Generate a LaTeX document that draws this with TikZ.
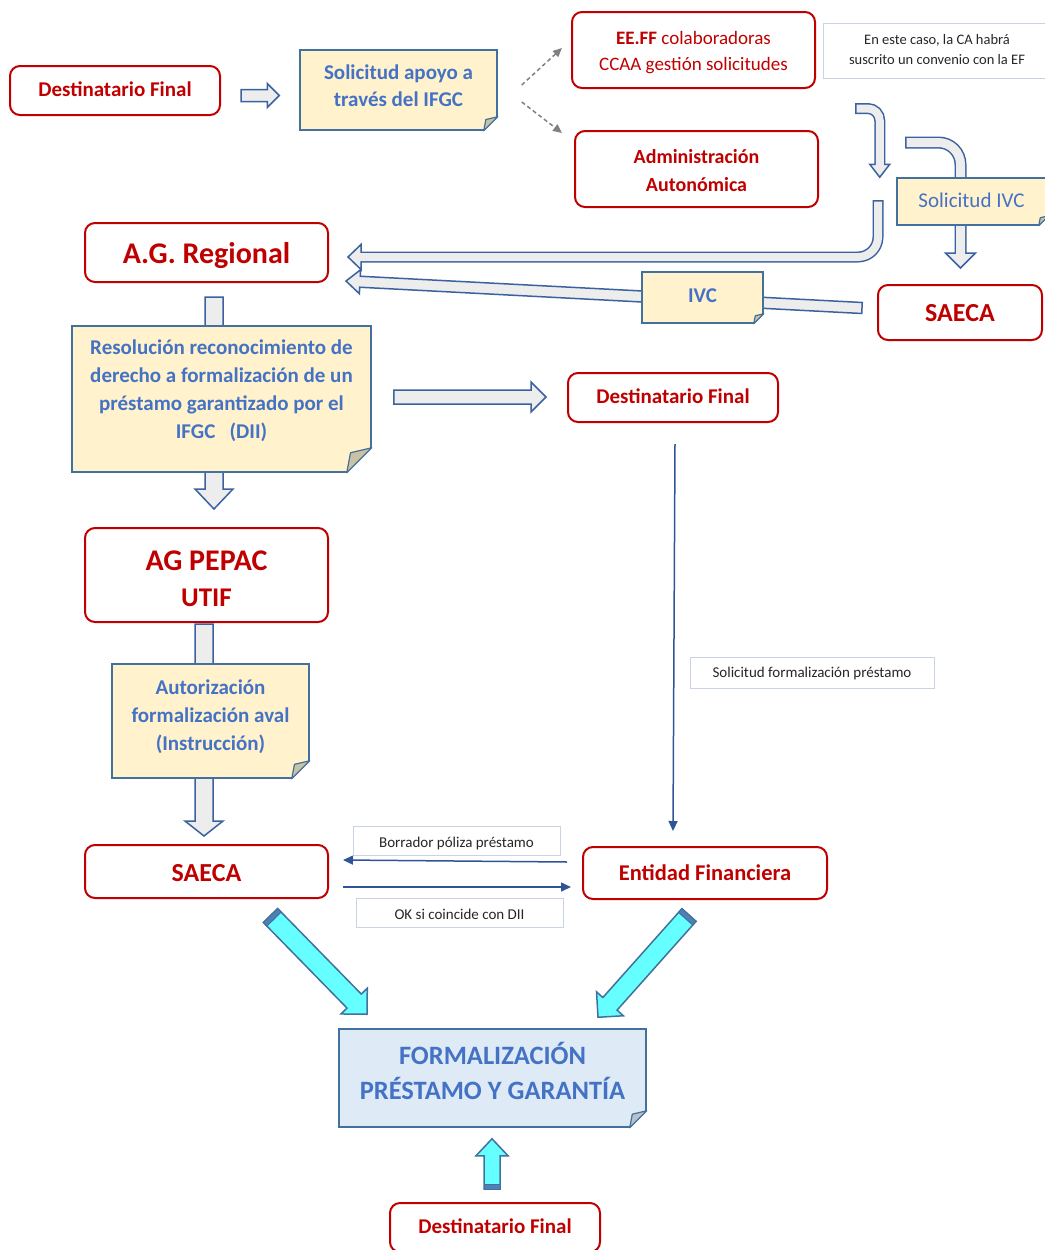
\documentclass[tikz,border=0pt]{standalone}
\usepackage{fontspec}
\setmainfont{Carlito}
\usetikzlibrary{arrows.meta,calc,positioning}

\definecolor{redline}{HTML}{C00000}
\definecolor{textblue}{HTML}{4472C4}
\definecolor{noteborder}{HTML}{41719C}
\definecolor{notefill}{HTML}{FFF2CC}
\definecolor{formfill}{HTML}{DEEAF6}
\definecolor{flaptan}{HTML}{CBC1A5}
\definecolor{flapgray}{HTML}{B8C0CC}
\definecolor{arrborder}{HTML}{3A62A0}
\definecolor{arrfill}{HTML}{EDEDED}
\definecolor{cyanfill}{HTML}{66FFFF}
\definecolor{capblue}{HTML}{4F7FB5}
\definecolor{thinblue}{HTML}{2F5597}
\definecolor{dashgray}{HTML}{808080}
\definecolor{lblborder}{HTML}{C9D3E3}
\definecolor{lbltext}{HTML}{262626}

\tikzset{
  redbox/.style={draw=redline, line width=2pt, rounded corners=10pt, fill=white,
    text=redline, align=center, inner sep=0pt, text depth=0pt,
    font=\bfseries\fontsize{21}{26}\selectfont},
  note/.style={draw=noteborder, fill=notefill, line width=1.5pt, inner sep=0pt},
  notetxt/.style={text=textblue, align=center, inner sep=0pt, font=\bfseries\fontsize{21}{28}\selectfont},
  lbl/.style={draw=lblborder, line width=1pt, text=lbltext, align=center, inner sep=0pt,
    text depth=0pt, font=\fontsize{15}{20}\selectfont},
  arrbox/.style={draw=arrborder, fill=arrfill, line width=1.5pt},
  cyanarr/.style={draw=noteborder, fill=cyanfill, line width=1.5pt},
  tubeout/.style={draw=arrborder, line width=#1},
  tubein/.style={draw=arrfill, line width=#1},
  thinarr/.style={draw=thinblue, line width=1.5pt, -{Triangle[length=10pt,width=9pt]}},
  dasharr/.style={draw=dashgray, line width=1.5pt, dash pattern=on 4pt off 3pt,
    -{Triangle[length=9pt,width=8pt]}}
}

% block arrow: style, start, tip, half shaft, half head, head length
\newcommand{\blockarr}[6]{%
  \coordinate (ba-s) at (#2);
  \coordinate (ba-e) at (#3);
  \coordinate (ba-h) at ($(ba-e)!#6pt!(ba-s)$);
  \filldraw[#1] ($(ba-s)!#4pt!90:(ba-e)$) -- ($(ba-h)!#4pt!-90:(ba-s)$)
    -- ($(ba-h)!#5pt!-90:(ba-s)$) -- (ba-e) -- ($(ba-h)!#5pt!90:(ba-s)$)
    -- ($(ba-h)!#4pt!90:(ba-s)$) -- ($(ba-s)!#4pt!-90:(ba-e)$) -- cycle;
}
% dark band at the tail of the last block arrow
\newcommand{\blockcap}[2]{%
  \coordinate (bc-m) at ($(ba-s)!#2pt!(ba-e)$);
  \filldraw[fill=capblue, draw=noteborder, line width=1pt] ($(ba-s)!#1pt!90:(ba-e)$)
    -- ($(bc-m)!#1pt!90:(ba-e)$) -- ($(bc-m)!#1pt!-90:(ba-e)$) -- ($(ba-s)!#1pt!-90:(ba-e)$) -- cycle;
}
% head of a bent arrow
\newcommand{\tubehead}[3]{%
  \filldraw[arrbox] ($(#1)!#3pt!90:(#2)$) -- (#2) -- ($(#1)!#3pt!-90:(#2)$) -- cycle;
}
% folded corner of a note
\newcommand{\fold}[3]{%
  \fill[white] ($(#1.south east)+(0,-#2)$) -- ++(3,0) -- ++(0,#2+3) -- ++(-#2-3,0) -- ++(0,-3) -- cycle;
  \filldraw[fill=#3, draw=noteborder, line width=1.2pt, line join=round] ($(#1.south east)+(-#2,0)$)
    -- ($(#1.south east)+(-0.85*#2,-0.8*#2)$) -- ($(#1.south east)+(0,-#2)$) -- cycle;
}

\begin{document}
\begin{tikzpicture}[x=1pt,y=-1pt]
\useasboundingbox (0,0) rectangle (1044,1250);

% boxes
\node[redbox, minimum width=210pt, minimum height=49pt, text height=12.4pt] (dftop) at (115,90.5) {Destinatario Final};
\node[redbox, minimum width=243pt, minimum height=76pt, font=\fontsize{19}{25.6}\selectfont, text height=40pt] (eeff) at (693.5,50)
  {{\bfseries EE.FF} colaboradoras\\CCAA gestión solicitudes};
\node[redbox, minimum width=243pt, minimum height=76pt, font=\bfseries\fontsize{20}{28.3}\selectfont, text height=45pt] (admin) at (696.5,169)
  {Administración\\Autonómica};
\node[redbox, minimum width=243pt, minimum height=59pt, font=\bfseries\fontsize{30}{36}\selectfont, text height=21.6pt] (agreg) at (206.5,252.5)
  {A.G. Regional};
\node[redbox, minimum width=164pt, minimum height=55pt, font=\bfseries\fontsize{26}{30}\selectfont, text height=17.5pt] (saecar) at (960,312.5) {SAECA};
\node[redbox, minimum width=210pt, minimum height=49pt, text height=12.4pt] (dfmid) at (673,397.5) {Destinatario Final};
\node[redbox, minimum width=243pt, minimum height=94pt, font=\bfseries\fontsize{30}{36}\selectfont, text height=63.4pt] (pepac) at (206.5,575)
  {AG PEPAC\\\fontsize{27}{36}\selectfont UTIF};
\node[redbox, minimum width=243pt, minimum height=53pt, font=\bfseries\fontsize{26}{30}\selectfont, text height=20.4pt] (saecal) at (206.5,871.5) {SAECA};
\node[redbox, minimum width=244pt, minimum height=52pt, font=\bfseries\fontsize{22.5}{27}\selectfont, text height=14pt] (entidad) at (705,873)
  {Entidad Financiera};
\node[redbox, minimum width=210pt, minimum height=49pt, text height=12pt] (dfbot) at (495,1227.5) {Destinatario Final};

% labels
\node[lbl, minimum width=228pt, minimum height=55pt, font=\fontsize{14.5}{19.7}\selectfont, text height=27pt] (conv) at (937,50.5)
  {En este caso, la CA habrá\\suscrito un convenio con la EF};
\node[lbl, minimum width=244pt, minimum height=31pt, text height=9.6pt] (lsolf) at (812,672.5) {Solicitud formalización préstamo};
\node[lbl, minimum width=207pt, minimum height=29pt, text height=13.6pt] (lborr) at (456.5,840.5) {Borrador póliza préstamo};
\node[lbl, minimum width=207pt, minimum height=29pt, text height=13.6pt] (lok) at (459.5,912.5) {OK si coincide con DII};

% arrows behind the notes
\blockarr{arrbox}{$(agreg.south)+(7.5,14)$}{$(pepac.north)+(7.5,-18)$}{9}{19}{20}
\blockarr{arrbox}{$(pepac.south)+(-2.5,1)$}{$(saecal.north)+(-2.5,-8)$}{9}{19}{15}
\blockarr{arrbox}{$(saecar.west)+(-15,-4.5)$}{$(agreg.east)+(17,28.5)$}{5.5}{12}{14}

\coordinate (ub-s) at (905,142.5);
\coordinate (ub-t) at ($(saecar.north)+(0.5,-16)$);
\coordinate (ub-h) at ($(ub-t)+(0,-15)$);
\draw[tubeout=12pt, rounded corners=22pt] (ub-s) -| (ub-h);
\tubehead{ub-h}{ub-t}{15}
\draw[tubein=9pt, rounded corners=22pt, shorten <=1.5pt, shorten >=-2pt] (ub-s) -| (ub-h);

% notes
\node[note, minimum width=197pt, minimum height=80pt] (solap) at (398.5,90) {};
\fold{solap}{14}{flaptan}
\node[notetxt, font=\bfseries\fontsize{21}{27}\selectfont] (solap-t) at (398.5,85.5) {Solicitud apoyo a\\través del IFGC};

\node[note, minimum width=151pt, minimum height=47pt] (solivc) at (972.5,201.5) {};
\fold{solivc}{10}{flaptan}
\node[notetxt, font=\fontsize{21}{25}\selectfont] (solivc-t) at (971.5,200) {Solicitud IVC};

\node[note, minimum width=121pt, minimum height=51pt] (ivc) at (702.5,297.5) {};
\fold{ivc}{10}{flaptan}
\node[notetxt] (ivc-t) at (702.5,295.5) {IVC};

\node[note, minimum width=299pt, minimum height=146pt] (resol) at (221.5,399) {};
\fold{resol}{25}{flaptan}
\node[notetxt] (resol-t) at (221.5,391) {Resolución reconocimiento de\\derecho a formalización de un\\préstamo garantizado por el\\IFGC\ \ \ (DII)};

\node[note, minimum width=197pt, minimum height=114pt] (autor) at (210.5,721) {};
\fold{autor}{18}{flaptan}
\node[notetxt] (autor-t) at (210.5,716.5) {Autorización\\formalización aval\\(Instrucción)};

\node[note, fill=formfill, minimum width=307pt, minimum height=98pt] (formal) at (492.5,1078) {};
\fold{formal}{17}{flapgray}
\node[notetxt, font=\bfseries\fontsize{26.5}{35}\selectfont] (formal-t) at (492.5,1071) {FORMALIZACIÓN\\PRÉSTAMO Y GARANTÍA};

% arrows in front
\blockarr{arrbox}{$(dftop.east)+(20,5)$}{$(solap.west)+(-20,5.5)$}{6}{12}{12}
\blockarr{arrbox}{$(resol.east)+(22,-2)$}{$(dfmid.west)+(-21,-0.5)$}{7}{15}{15}

\draw[dasharr] ($(solap.east)+(24,-5)$) -- ($(eeff.west)+(-9,-2)$);
\draw[dasharr] ($(solap.east)+(24,12)$) -- ($(admin.west)+(-12,-36)$);

\coordinate (ua-s) at (855,108.5);
\coordinate (ua-t) at ($(solivc.north west)+(-16.5,0)$);
\coordinate (ua-h) at ($(ua-t)+(0,-13)$);
\draw[tubeout=11pt, rounded corners=12pt] (ua-s) -| (ua-h);
\tubehead{ua-h}{ua-t}{10}
\draw[tubein=8pt, rounded corners=12pt, shorten <=1.5pt, shorten >=-2pt] (ua-s) -| (ua-h);

\coordinate (uc-s) at (878,200);
\coordinate (uc-t) at ($(agreg.east)+(19,4.5)$);
\coordinate (uc-h) at ($(uc-t)+(13,0)$);
\draw[tubeout=11pt, rounded corners=20pt] (uc-s) |- (uc-h);
\tubehead{uc-h}{uc-t}{12.5}
\draw[tubein=8pt, rounded corners=20pt, shorten <=1.5pt, shorten >=-2pt] (uc-s) |- (uc-h);

\draw[thinarr] ($(dfmid.south)+(2,21)$) -- ($(entidad.north)+(-32,-15)$);
\draw[thinarr] ($(entidad.west)+(-15,-11)$) -- ($(saecal.east)+(14,-11.5)$);
\draw[thinarr] ($(saecal.east)+(14,15.5)$) -- ($(entidad.west)+(-11,14)$);

% cyan arrows
\blockarr{cyanarr}{$(saecal.south)+(64,16.5)$}{$(formal.north)+(-125.5,-14)$}{10}{18.4}{18.4}
\blockcap{10}{5}
\blockarr{cyanarr}{$(entidad.south)+(-16,15)$}{$(formal.north)+(105.5,-11)$}{9.5}{18}{18}
\blockcap{9.5}{5}
\blockarr{cyanarr}{$(dfbot.north)+(-3,-13)$}{$(formal.south)+(-0.5,11)$}{8}{16}{17}
\blockcap{8}{5}
\end{tikzpicture}
\end{document}
